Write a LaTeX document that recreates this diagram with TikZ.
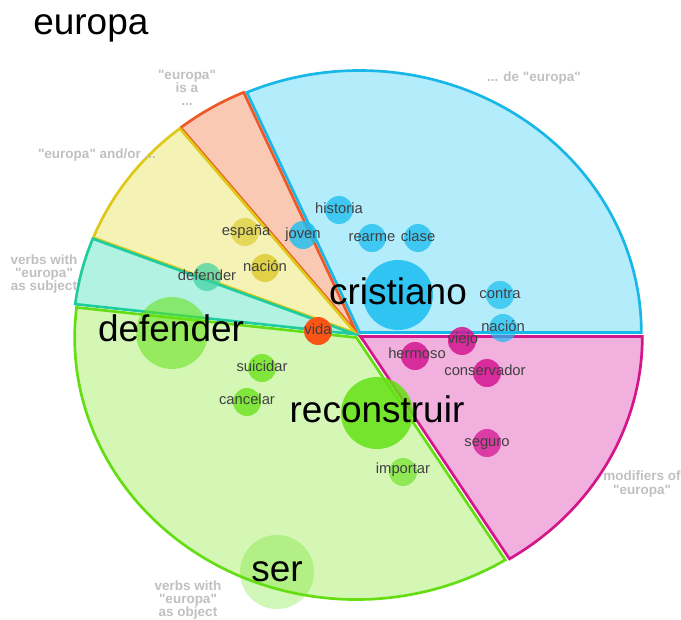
\documentclass[tikz,border=0pt]{standalone}
\usepackage{fontspec}
\setmainfont{Liberation Sans}[Ligatures=TeXOff]
\definecolor{blufill}{RGB}{179,236,251}
\definecolor{bluline}{RGB}{25,183,232}
\definecolor{bludot}{RGB}{25,190,240}
\definecolor{salfill}{RGB}{250,201,180}
\definecolor{salline}{RGB}{238,88,38}
\definecolor{viddot}{RGB}{250,85,20}
\definecolor{yelfill}{RGB}{245,242,182}
\definecolor{yelline}{RGB}{222,200,24}
\definecolor{yeldot}{RGB}{218,200,30}
\definecolor{tealfill}{RGB}{178,242,226}
\definecolor{tealline}{RGB}{30,204,158}
\definecolor{tealdot}{RGB}{60,210,160}
\definecolor{grnfill}{RGB}{212,247,182}
\definecolor{grnline}{RGB}{100,222,18}
\definecolor{grndot}{RGB}{100,225,20}
\definecolor{pnkfill}{RGB}{242,176,222}
\definecolor{pnkline}{RGB}{212,22,140}
\definecolor{pnkdot}{RGB}{212,20,145}
\definecolor{catgray}{RGB}{192,192,192}
\usetikzlibrary{positioning}

\begin{document}
\begin{tikzpicture}[x=0.025cm,y=0.025cm,
        slice/.style={line width=1.9pt,line join=miter},
        word/.style={text=black!75,font=\fontsize{10.5}{12}\selectfont,inner sep=0pt,text height=5.45pt,text depth=0pt},
        bigword/.style={text=black,font=\fontsize{26.3}{30}\selectfont,inner sep=0pt,text height=13.6pt,text depth=0pt},
        cat/.style={text=catgray,font=\fontsize{9.6}{9.4}\selectfont\bfseries,align=center,inner sep=0pt}]
            \useasboundingbox (0,0) rectangle (681,619);
            \coordinate (C) at (358,284);
            \node[anchor=base west,font=\fontsize{26.3}{30}\selectfont,inner sep=0pt] (title) at (33,584) {europa};
            \filldraw[slice,draw=bluline,fill=blufill] ([shift={(56.8:3)}]C) -- ++(0:281.7) arc[start angle=0,end angle=113.6,x radius=281.7,y radius=262] -- cycle;
            \filldraw[slice,draw=salline,fill=salfill] ([shift={(121.1:3)}]C) -- ++({281.7*cos(113.6)},{262*sin(113.6)}) arc[start angle=113.6,end angle=128.6,x radius=281.7,y radius=262] -- cycle;
            \filldraw[slice,draw=yelline,fill=yelfill] ([shift={(143.6:3)}]C) -- ++({281.7*cos(128.6)},{262*sin(128.6)}) arc[start angle=128.6,end angle=158.6,x radius=281.7,y radius=262] -- cycle;
            \filldraw[slice,draw=tealline,fill=tealfill] ([shift={(166:3)}]C) -- ++({281.7*cos(158.6)},{262*sin(158.6)}) arc[start angle=158.6,end angle=173.4,x radius=281.7,y radius=262] -- cycle;
            \filldraw[slice,draw=grnline,fill=grnfill] ([shift={(237.6:3)}]C) -- ++({281.7*cos(173.4)},{262*sin(173.4)}) arc[start angle=173.4,end angle=301.9,x radius=281.7,y radius=262] -- cycle;
            \filldraw[slice,draw=pnkline,fill=pnkfill] ([shift={(331:3)}]C) -- ++({281.7*cos(301.9)},{262*sin(301.9)}) arc[start angle=301.9,end angle=360,x radius=281.7,y radius=262] -- cycle;
            \fill[bludot,fill opacity=0.75] (339,409) circle (14);
            \fill[bludot,fill opacity=0.8] (303,384) circle (14);
            \fill[bludot,fill opacity=0.75] (372,381) circle (14);
            \fill[bludot,fill opacity=0.75] (418,381) circle (14);
            \fill[bludot,fill opacity=0.85] (398,324) circle (35);
            \fill[bludot,fill opacity=0.7] (500,324) circle (14);
            \fill[bludot,fill opacity=0.7] (503,291) circle (14);
            \fill[viddot] (318,288) circle (14);
            \fill[yeldot,fill opacity=0.6] (245,387) circle (14);
            \fill[yeldot,fill opacity=0.75] (265,351) circle (14);
            \fill[tealdot,fill opacity=0.7] (207,342) circle (14);
            \fill[grndot,fill opacity=0.55] (172,286) circle (36);
            \fill[grndot,fill opacity=0.75] (262,251) circle (14);
            \fill[grndot,fill opacity=0.75] (247,217) circle (14);
            \fill[grndot,fill opacity=0.85] (377,206) circle (36);
            \fill[grndot,fill opacity=0.6] (403,147) circle (14);
            \fill[grndot,fill opacity=0.3] (277,47) circle (37);
            \fill[pnkdot,fill opacity=0.85] (462,278) circle (14);
            \fill[pnkdot,fill opacity=0.85] (415,263) circle (14);
            \fill[pnkdot,fill opacity=0.85] (487,246) circle (14);
            \fill[pnkdot,fill opacity=0.75] (487,176) circle (14);
            \node[word] (historia) at (339,409) {historia};
            \node[word] (joven) at (303,384) {joven};
            \node[word] (rearme) at (372,381) {rearme};
            \node[word] (clase) at (418,381) {clase};
            \node[bigword] (cristiano) at (398,324) {cristiano};
            \node[word] (contra) at (500,324) {contra};
            \node[word] (nacionblu) at (503,291) {nación};
            \node[word] (vida) at (318,288) {vida};
            \node[word] (espana) at (246,387) {españa};
            \node[word] (nacionyel) at (265,351) {nación};
            \node[word] (defsubj) at (207,342) {defender};
            \node[bigword] (defobj) at (171,287) {defender};
            \node[word] (suicidar) at (262,251) {suicidar};
            \node[word] (cancelar) at (247,218) {cancelar};
            \node[bigword] (reconstruir) at (377,206) {reconstruir};
            \node[word] (importar) at (403,149) {importar};
            \node[bigword] (ser) at (277,47) {ser};
            \node[word] (viejo) at (463,279) {viejo};
            \node[word] (hermoso) at (417,264) {hermoso};
            \node[word] (conservador) at (485,247) {conservador};
            \node[word] (seguro) at (487,176) {seguro};
            \node[cat] (isa) at (187,531) {"europa"\\is a\\...};
            \node[cat] (andor) at (97,464) {"europa" and/or ...};
            \node[cat] (subj) at (44,345) {verbs with\\"europa"\\as subject};
            \node[cat] (dede) at (534,541) {... de "europa"};
            \node[cat] (modif) at (642,135) {modifiers of\\"europa"};
            \node[cat] (obj) at (188,19) {verbs with\\"europa"\\as object};
\end{tikzpicture}
\end{document}
